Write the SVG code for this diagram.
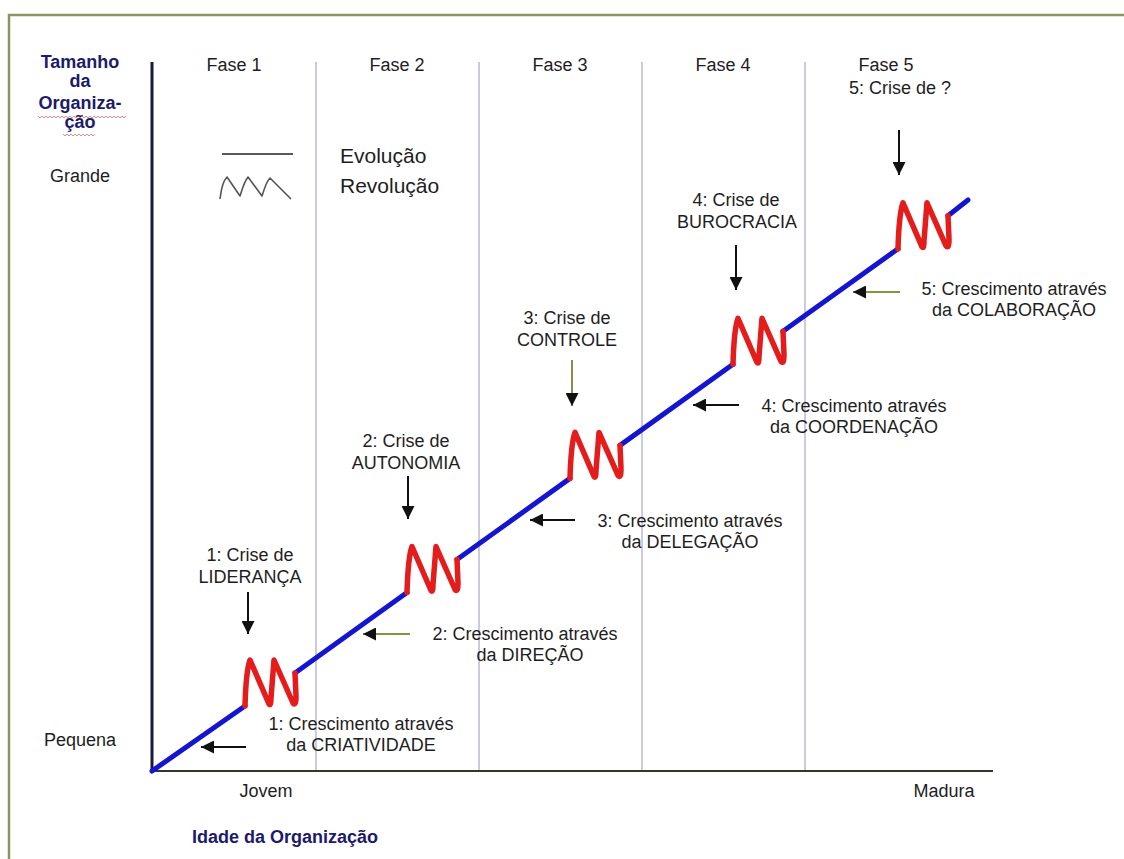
<svg xmlns="http://www.w3.org/2000/svg" width="1124" height="859" viewBox="0 0 1124 859">
  <style>
    text { font-family: "Liberation Sans", Arial, sans-serif; fill: #1e1e1e; }
    .lbl { font-size: 18px; text-anchor: middle; }
    .legend { font-size: 21px; }
    .axis-title { font-size: 18px; font-weight: bold; fill: #1b1b6a; }
    .phase-line { stroke: #b9b9d6; stroke-width: 1.5; }
    .curve { stroke: #1414d2; stroke-width: 5; stroke-linecap: round; fill: none; }
    .crisis { stroke: #e41c1c; stroke-width: 5.5; stroke-linecap: round; stroke-linejoin: round; fill: none; }
    .arrow { stroke: #111; stroke-width: 2; marker-end: url(#head); }
    .arrow.green { stroke: #7c9a3c; }
    .arrow.olive { stroke: #8a8a50; }
    .spell { stroke: #d04040; stroke-width: 1; fill: none; opacity: 0.6; }
  </style>
  <defs>
    <marker id="head" viewBox="0 0 10 10" refX="10" refY="5" markerUnits="userSpaceOnUse" markerWidth="14" markerHeight="13" orient="auto">
      <path d="M0,0 L10,5 L0,10 z" fill="#111"/>
    </marker>
    <!-- revolution zigzag, drawn from its start point on the curve -->
    <path id="zigzag" d="M0,0 Q1,-35 5,-46 L24,-2 Q26,1 26,-8 L29,-46 L48,-3 Q51,1 51,-10 L50,-33"/>
  </defs>

  <rect width="1124" height="859" fill="#ffffff"/>
  <!-- frame -->
  <path d="M9,859 L9,15 L1124,15" fill="none" stroke="#8c9460" stroke-width="2.5"/>

  <!-- phase separators -->
  <g id="phases">
    <line class="phase-line" x1="316" y1="62" x2="316" y2="771"/>
    <line class="phase-line" x1="479" y1="62" x2="479" y2="771"/>
    <line class="phase-line" x1="642" y1="62" x2="642" y2="771"/>
    <line class="phase-line" x1="805" y1="62" x2="805" y2="771"/>
    <text class="lbl" x="234" y="71">Fase 1</text>
    <text class="lbl" x="397" y="71">Fase 2</text>
    <text class="lbl" x="560" y="71">Fase 3</text>
    <text class="lbl" x="723" y="71">Fase 4</text>
    <text class="lbl" x="886" y="71">Fase 5</text>
  </g>

  <!-- axes -->
  <g id="axes">
    <line x1="152" y1="62" x2="152" y2="772" stroke="#1a1a3e" stroke-width="3"/>
    <line x1="151" y1="771" x2="993" y2="771" stroke="#2c3a2c" stroke-width="2"/>
    <text class="axis-title" x="80" y="68" text-anchor="middle">Tamanho</text>
    <text class="axis-title" x="80" y="87" text-anchor="middle">da</text>
    <text class="axis-title" x="80" y="109" text-anchor="middle">Organiza-</text>
    <text class="axis-title" x="80" y="128" text-anchor="middle">ção</text>
    <path class="spell" d="M38,116 l2,2 2,-2 2,2 2,-2 2,2 2,-2 2,2 2,-2 2,2 2,-2 2,2 2,-2 2,2 2,-2 2,2 2,-2 2,2 2,-2 2,2 2,-2 2,2 2,-2 2,2 2,-2 2,2 2,-2 2,2 2,-2 2,2 2,-2 2,2 2,-2 2,2 2,-2 2,2 2,-2 2,2 2,-2 2,2 2,-2 2,2 2,-2 2,2 2,-2"/>
    <path class="spell" d="M63,134 l2,2 2,-2 2,2 2,-2 2,2 2,-2 2,2 2,-2 2,2 2,-2 2,2 2,-2 2,2 2,-2 2,2 2,-2"/>
    <text class="lbl" x="80" y="182">Grande</text>
    <text class="lbl" x="80" y="746">Pequena</text>
    <text class="lbl" x="266" y="797">Jovem</text>
    <text class="lbl" x="944" y="797">Madura</text>
    <text class="axis-title" x="192" y="843">Idade da Organização</text>
  </g>

  <!-- legend -->
  <g id="legend">
    <line x1="222" y1="154" x2="293" y2="154" stroke="#222" stroke-width="1.5"/>
    <path d="M220,199 C221,190 223,181 227,177 L240,196 C242,190 244,182 248,177 L262,196 C264,190 266,182 270,178 L291,199" fill="none" stroke="#555" stroke-width="1.6" stroke-linejoin="round"/>
    <text class="legend" x="340" y="163">Evolução</text>
    <text class="legend" x="340" y="193">Revolução</text>
  </g>

  <!-- growth curve with revolution zigzags -->
  <g id="curve">
    <path class="curve" d="M152,771 L245,706 M295,673 L407,592.5 M457,559.5 L570,478.4 M620,445.4 L733,364.3 M783,331.3 L898,248.8 M948,215.8 L968,200"/>
    <use class="crisis" href="#zigzag" transform="translate(245,706)"/>
    <use class="crisis" href="#zigzag" transform="translate(407,592.5)"/>
    <use class="crisis" href="#zigzag" transform="translate(570,478.4)"/>
    <use class="crisis" href="#zigzag" transform="translate(733,364.3)"/>
    <use class="crisis" href="#zigzag" transform="translate(898,248.8)"/>
  </g>

  <!-- crisis labels -->
  <g id="crisis-1">
    <text class="lbl" x="250" y="561">1: Crise de</text>
    <text class="lbl" x="250" y="583">LIDERANÇA</text>
  </g>
  <g id="crisis-2">
    <text class="lbl" x="406" y="447">2: Crise de</text>
    <text class="lbl" x="406" y="469">AUTONOMIA</text>
  </g>
  <g id="crisis-3">
    <text class="lbl" x="567" y="324">3: Crise de</text>
    <text class="lbl" x="567" y="346">CONTROLE</text>
  </g>
  <g id="crisis-4">
    <text class="lbl" x="736" y="206">4: Crise de</text>
    <text class="lbl" x="737" y="228">BUROCRACIA</text>
  </g>
  <g id="crisis-5">
    <text class="lbl" x="900" y="94">5: Crise de ?</text>
  </g>

  <!-- growth labels -->
  <g id="growth-1">
    <text class="lbl" x="361" y="730">1: Crescimento através</text>
    <text class="lbl" x="361" y="751">da CRIATIVIDADE</text>
  </g>
  <g id="growth-2">
    <text class="lbl" x="525" y="640">2: Crescimento através</text>
    <text class="lbl" x="530" y="661">da DIREÇÃO</text>
  </g>
  <g id="growth-3">
    <text class="lbl" x="690" y="527">3: Crescimento através</text>
    <text class="lbl" x="690" y="548">da DELEGAÇÃO</text>
  </g>
  <g id="growth-4">
    <text class="lbl" x="854" y="412">4: Crescimento através</text>
    <text class="lbl" x="854" y="433">da COORDENAÇÃO</text>
  </g>
  <g id="growth-5">
    <text class="lbl" x="1014" y="295">5: Crescimento através</text>
    <text class="lbl" x="1014" y="316">da COLABORAÇÃO</text>
  </g>

  <!-- pointer arrows -->
  <g id="connectors">
    <line class="arrow" x1="248" y1="592" x2="248" y2="634"/>
    <line class="arrow" x1="408" y1="476" x2="408" y2="519"/>
    <line class="arrow olive" x1="572" y1="360" x2="572" y2="406"/>
    <line class="arrow" x1="736" y1="245" x2="736" y2="290"/>
    <line class="arrow" x1="899" y1="130" x2="899" y2="175"/>
    <line class="arrow" x1="246" y1="747" x2="201" y2="747"/>
    <line class="arrow green" x1="410" y1="634" x2="363" y2="634"/>
    <line class="arrow" x1="575" y1="520" x2="530" y2="520"/>
    <line class="arrow" x1="739" y1="405" x2="693" y2="405"/>
    <line class="arrow green" x1="900" y1="292" x2="853" y2="292"/>
  </g>
</svg>
